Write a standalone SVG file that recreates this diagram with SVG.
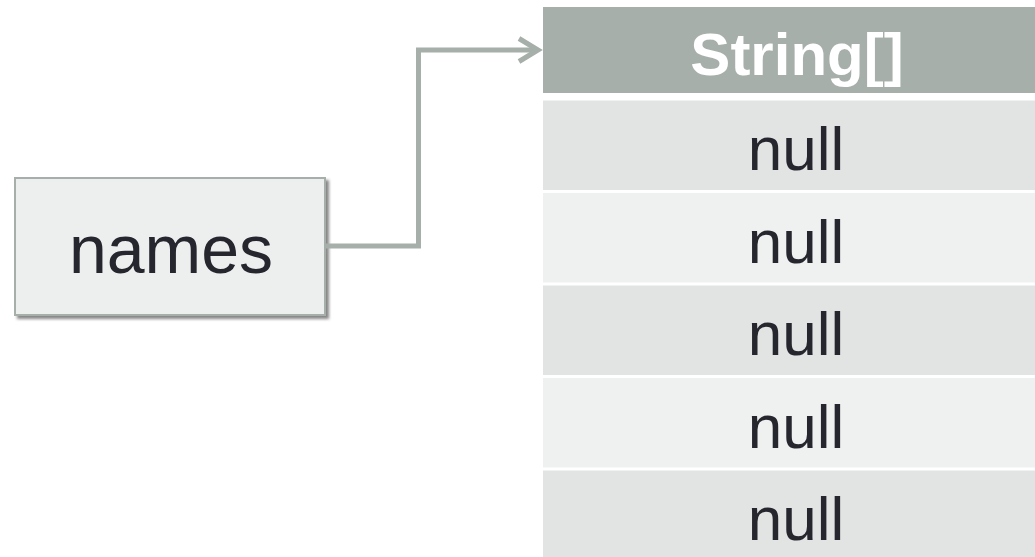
<svg xmlns="http://www.w3.org/2000/svg" width="1035" height="557" viewBox="0 0 1035 557">
  <style>
    .ref { fill: #EDEFEE; stroke: #A6AFA9; stroke-width: 2; }
    .hdr { fill: #A6AFA9; }
    .odd { fill: #E2E4E3; }
    .even { fill: #EFF1F0; }
    .cell { font-family: "Liberation Sans", Arial, sans-serif; font-size: 62px; fill: #25262E; text-anchor: middle; }
    .title { font-family: "Liberation Sans", Arial, sans-serif; font-size: 60px; font-weight: bold; fill: #FFFFFF; text-anchor: middle; }
    .label { font-family: "Liberation Sans", Arial, sans-serif; font-size: 68px; fill: #25262E; text-anchor: middle; }
    .link { fill: none; stroke: #A6AFA9; stroke-width: 5; }
  </style>
  <defs>
    <filter id="shadow" x="-10%" y="-10%" width="125%" height="130%">
      <feDropShadow dx="3" dy="3" stdDeviation="1.5" flood-color="#555555" flood-opacity="0.7"/>
    </filter>
    <marker id="arrow" viewBox="0 0 12 14" refX="10" refY="7" markerWidth="12" markerHeight="14" markerUnits="userSpaceOnUse" orient="auto" overflow="visible">
      <path d="M-10,-5 L10,7 L-10,19" fill="none" stroke="#A6AFA9" stroke-width="5" stroke-linejoin="miter"/>
    </marker>
  </defs>

  <!-- reference variable -->
  <g id="names">
    <rect class="ref" x="15" y="178" width="310" height="137" filter="url(#shadow)"/>
    <text class="label" x="171" y="273">names</text>
  </g>

  <!-- array object -->
  <g id="array-header">
    <rect class="hdr" x="543" y="7" width="500" height="86"/>
    <text class="title" x="797" y="75">String[]</text>
  </g>
  <g id="slot-0">
    <rect class="odd" x="543" y="100.5" width="500" height="89.5"/>
    <text class="cell" x="796" y="170">null</text>
  </g>
  <g id="slot-1">
    <rect class="even" x="543" y="193" width="500" height="89.5"/>
    <text class="cell" x="796" y="262.5">null</text>
  </g>
  <g id="slot-2">
    <rect class="odd" x="543" y="285.5" width="500" height="89.5"/>
    <text class="cell" x="796" y="355">null</text>
  </g>
  <g id="slot-3">
    <rect class="even" x="543" y="378" width="500" height="89.5"/>
    <text class="cell" x="796" y="447.5">null</text>
  </g>
  <g id="slot-4">
    <rect class="odd" x="543" y="470.5" width="500" height="89.5"/>
    <text class="cell" x="796" y="540">null</text>
  </g>

  <!-- reference arrow -->
  <g id="connectors">
    <path class="link" d="M326,246 H418.5 V50 H538"/>
    <path class="link" d="M519,38.5 L538,50 L519,61.5" stroke-linejoin="miter"/>
  </g>
</svg>
